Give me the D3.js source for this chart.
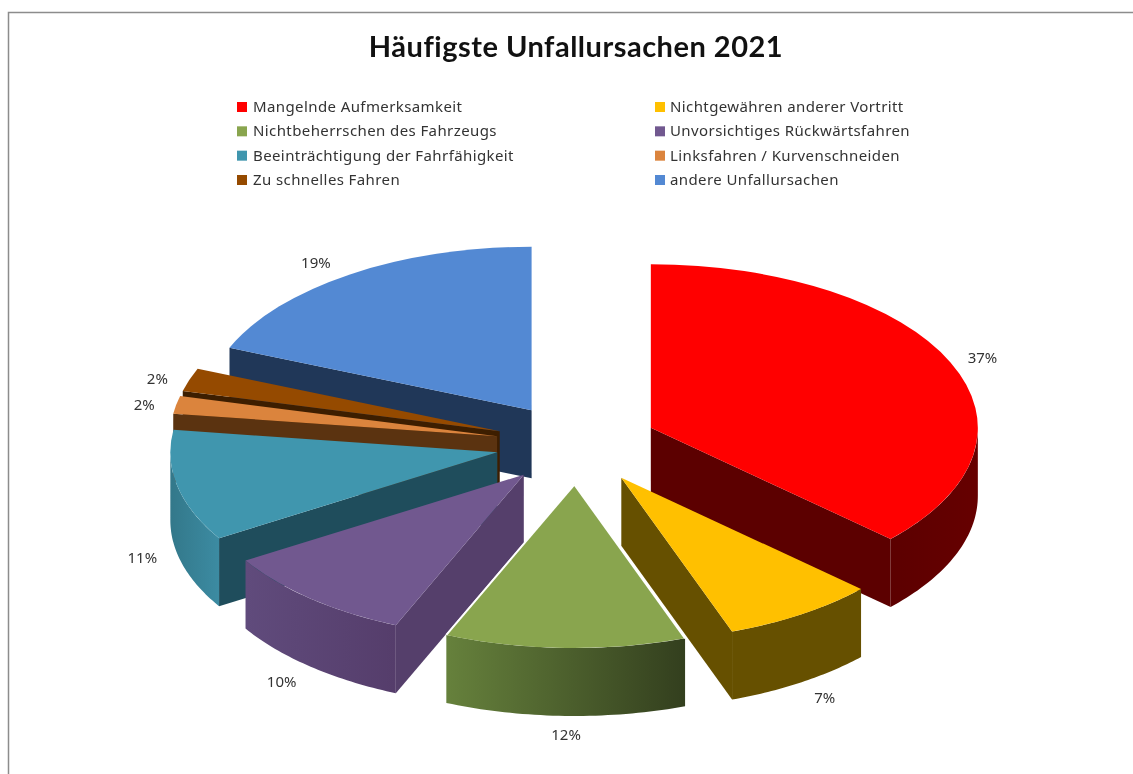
<!DOCTYPE html>
<html>
<head>
<meta charset="utf-8">
<script src="https://cdn.jsdelivr.net/npm/d3@7"></script>
<style>
  html, body { margin: 0; background: #fff; }
  svg { display: block; filter: blur(0.4px); }
  .title { font-family: Lato, sans-serif; font-weight: 700; font-size: 29px; letter-spacing: 0.5px; fill: #111; }
  .legend text { font-family: "Noto Sans", sans-serif; font-size: 15px; letter-spacing: 0.4px; fill: #333; }
  .pct { font-family: "Noto Sans", sans-serif; font-size: 15px; fill: #333; text-anchor: middle; }
</style>
</head>
<body>
<svg id="chart" width="1133" height="774"></svg>
<script>
const categories = ["Mangelnde Aufmerksamkeit", "Nichtgewähren anderer Vortritt", "Nichtbeherrschen des Fahrzeugs",
	"Unvorsichtiges Rückwärtsfahren", "Beeinträchtigung der Fahrfähigkeit", "Linksfahren / Kurvenschneiden",
	"Zu schnelles Fahren", "andere Unfallursachen"];
// slice sizes as measured on the picture, the printed labels are rounded
const shares = [36.9, 7.6, 11.9, 9.8, 11, 1.75, 2.3, 18.75];
const shareLabels = ["37%", "7%", "12%", "10%", "11%", "2%", "2%", "19%"];

const topColors = ["#ff0000", "#ffc000", "#89a54e", "#71588f", "#4096ae", "#db843d", "#954a00", "#5389d3"];
const sideColors = ["#5c0000", "#665000", "#89a54e", "#553f6b", "#1f4d5c", "#5b3310", "#3d1e00", "#203758"];
// left and right end of the rim shading
const rimColors = [["#5c0000", "#660000"], ["#665000", "#665000"], ["#66813c", "#333f1e"], ["#604b7c", "#553d6b"],
	["#33788a", "#3c8ba2"], ["#5b3310", "#5b3310"], ["#3d1e00", "#3d1e00"], ["#203758", "#203758"]];

// label offset from the rim point in the middle of the slice
const labelOffsets = [[32, -4], [23, 16], [1, 19], [-29, 15], [-35, 4], [-32, 0], [-32, -1], [-34, -11]];
const drawOrder = [7, 6, 5, 4, 3, 0, 1, 2];

const cx = 576.6, cy = 444;
const rx = 327, tilt = 0.5, depth = 68, explode = 81;

const svg = d3.select("#chart");
const defs = svg.append("defs");

// frame of the screenshot
svg.append("path")
	.attr("d", "M8.5,774V12.5H1133")
	.attr("fill", "none")
	.attr("stroke", "#8c8c8c")
	.attr("stroke-width", 1.5);

svg.append("text")
	.attr("class", "title")
	.attr("x", 576)
	.attr("y", 57)
	.attr("text-anchor", "middle")
	.text("Häufigste Unfallursachen 2021");

// legend, two columns filled row by row
const legendX = d3.scaleOrdinal().domain([0, 1]).range([237, 655]);
const legendY = d3.scalePoint().domain([0, 1, 2, 3]).range([107, 180]);

const legend = svg.append("g").attr("class", "legend")
	.selectAll("g")
	.data(categories)
	.enter()
	.append("g")
	.attr("transform", (d, i) => "translate(" + legendX(i % 2) + "," + legendY(Math.floor(i / 2)) + ")");

legend.append("rect")
	.attr("y", -5)
	.attr("width", 10)
	.attr("height", 10)
	.attr("fill", (d, i) => topColors[i]);

legend.append("text")
	.attr("x", (d, i) => i % 2 ? 15 : 16)
	.attr("y", 5)
	.text(d => d);

// ---- pie ----
const slices = d3.pie().sort(null).value(d => d)(shares);
const arc = d3.arc().innerRadius(0).outerRadius(rx);

slices.forEach(function(s) {
	let mid = (s.startAngle + s.endAngle) / 2;
	s.ax = cx + explode * Math.sin(mid);
	s.ay = cy - explode * Math.cos(mid) * tilt;
	s.mid = mid;
});

function rim(s, a, down) {
	return [s.ax + rx * Math.sin(a), s.ay - rx * Math.cos(a) * tilt + (down || 0)];
}

// flat wall along one radius of the slice
function radiusWall(s, a) {
	let p = rim(s, a), q = rim(s, a, depth);
	return d3.line()([[s.ax, s.ay], p, q, [s.ax, s.ay + depth]]) + "Z";
}

// curved outer wall, only the front half of the pie shows
function outerWall(s) {
	let a0 = Math.max(s.startAngle, Math.PI / 2);
	let a1 = Math.min(s.endAngle, Math.PI * 1.5);
	if (a1 <= a0) return null;
	let angles = d3.range(0, 41).map(k => a0 + (a1 - a0) * k / 40);
	let pts = angles.map(a => rim(s, a)).concat(angles.slice().reverse().map(a => rim(s, a, depth)));
	return d3.line()(pts) + "Z";
}

const pie = svg.append("g");

drawOrder.forEach(function(i) {
	let s = slices[i];
	let g = pie.append("g");

	// start wall shows on the left half, end wall on the right half
	if (s.startAngle >= Math.PI) {
		g.append("path").attr("d", radiusWall(s, s.startAngle)).attr("fill", sideColors[i]);
	}
	if (s.endAngle <= Math.PI) {
		g.append("path").attr("d", radiusWall(s, s.endAngle)).attr("fill", sideColors[i]);
	}

	let wall = outerWall(s);
	if (wall) {
		let a0 = Math.max(s.startAngle, Math.PI / 2), a1 = Math.min(s.endAngle, Math.PI * 1.5);
		let xs = [rim(s, a0)[0], rim(s, a1)[0]];
		let grad = defs.append("linearGradient")
			.attr("id", "rim" + i)
			.attr("gradientUnits", "userSpaceOnUse")
			.attr("x1", d3.min(xs)).attr("x2", d3.max(xs))
			.attr("y1", 0).attr("y2", 0);
		grad.append("stop").attr("offset", 0).attr("stop-color", rimColors[i][0]);
		grad.append("stop").attr("offset", 1).attr("stop-color", rimColors[i][1]);
		g.append("path").attr("d", wall).attr("fill", "url(#rim" + i + ")");
	}

	g.append("path")
		.attr("transform", "translate(" + s.ax + "," + s.ay + ") scale(1," + tilt + ")")
		.attr("d", arc(s))
		.attr("fill", topColors[i]);

	// the green slice has a thin white line on both cut edges
	if (i === 2) {
		[s.startAngle, s.endAngle].forEach(function(a) {
			let p = rim(s, a);
			g.append("line")
				.attr("x1", s.ax).attr("y1", s.ay)
				.attr("x2", p[0]).attr("y2", p[1])
				.attr("stroke", "#fff")
				.attr("stroke-width", 2);
		});
	}
});

// percent labels
svg.append("g")
	.selectAll("text")
	.data(slices)
	.enter()
	.append("text")
	.attr("class", "pct")
	.attr("x", (s, i) => rim(s, s.mid)[0] + labelOffsets[i][0])
	.attr("y", (s, i) => rim(s, s.mid, s.mid > Math.PI / 2 && s.mid < Math.PI * 1.5 ? depth : 0)[1] + labelOffsets[i][1] + 5)
	.text((s, i) => shareLabels[i]);
</script>
</body>
</html>
